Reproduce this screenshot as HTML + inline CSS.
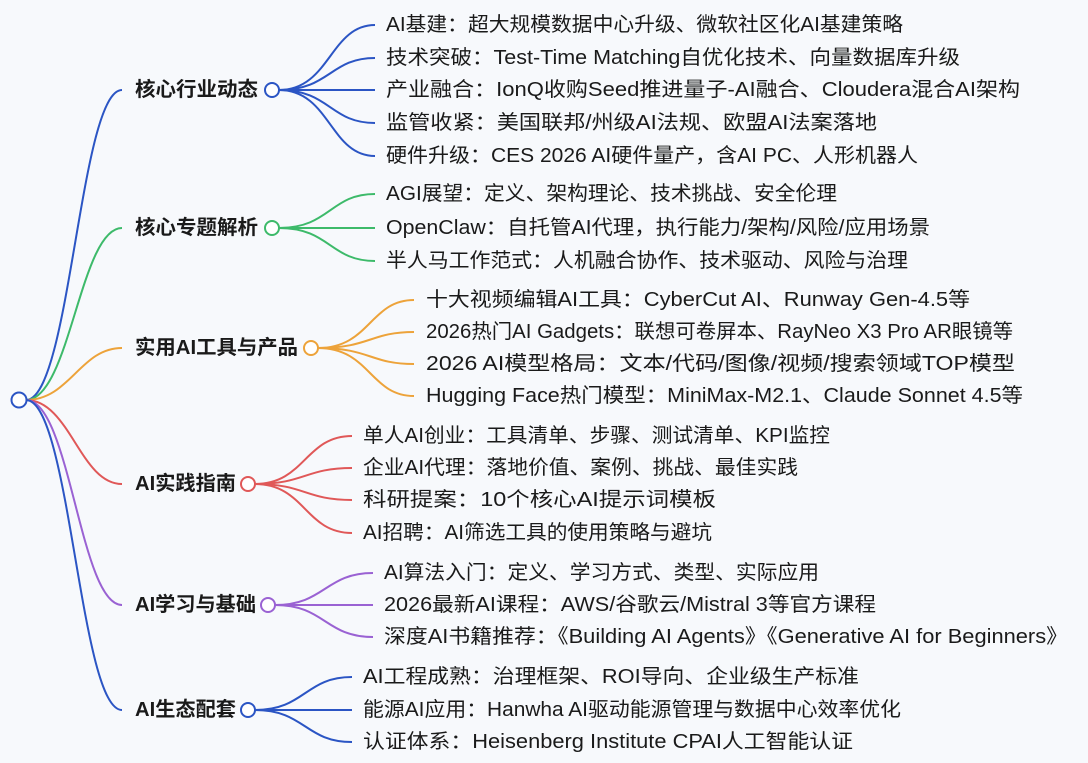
<!DOCTYPE html>
<html><head><meta charset="utf-8"><style>
html,body{margin:0;padding:0;background:#f7f9fc;}
svg{display:block;}
text{font-family:"Liberation Sans","Noto Sans CJK SC",sans-serif;fill:#1a1a1a;dominant-baseline:central;}
.c{font-size:20px;font-weight:bold;}
.t{font-size:20px;}
</style></head><body>
<svg width="1088" height="763" viewBox="0 0 1088 763" xmlns="http://www.w3.org/2000/svg">
<rect width="1088" height="763" fill="#f7f9fc"/>
<g fill="none" stroke-width="2">
<path d="M26 400 C70 400, 80 90, 122 90" stroke="#2b55c4"/>
<path d="M26 400 C70 400, 80 228, 122 228" stroke="#3dba6a"/>
<path d="M26 400 C70 400, 80 348, 122 348" stroke="#eda33a"/>
<path d="M26 400 C70 400, 80 484, 122 484" stroke="#e05858"/>
<path d="M26 400 C70 400, 80 605, 122 605" stroke="#9a62d3"/>
<path d="M26 400 C70 400, 80 710, 122 710" stroke="#2b55c4"/>
<g stroke="#2b55c4">
<path d="M279 90 C330 90, 330 25, 375 25"/>
<path d="M279 90 C330 90, 330 58, 375 58"/>
<path d="M279 90 L375 90"/>
<path d="M279 90 C330 90, 330 123, 375 123"/>
<path d="M279 90 C330 90, 330 156, 375 156"/>
</g>
<g stroke="#3dba6a">
<path d="M279 228 C330 228, 330 194, 375 194"/>
<path d="M279 228 L375 228"/>
<path d="M279 228 C330 228, 330 261, 375 261"/>
</g>
<g stroke="#eda33a">
<path d="M318 348 C370 348, 370 300, 414 300"/>
<path d="M318 348 C370 348, 370 332, 414 332"/>
<path d="M318 348 C370 348, 370 364, 414 364"/>
<path d="M318 348 C370 348, 370 396, 414 396"/>
</g>
<g stroke="#e05858">
<path d="M255 484 C305 484, 305 436, 352 436"/>
<path d="M255 484 C305 484, 305 468, 352 468"/>
<path d="M255 484 C305 484, 305 500, 352 500"/>
<path d="M255 484 C305 484, 305 533, 352 533"/>
</g>
<g stroke="#9a62d3">
<path d="M275 605 C325 605, 325 573, 373 573"/>
<path d="M275 605 L373 605"/>
<path d="M275 605 C325 605, 325 637, 373 637"/>
</g>
<g stroke="#2b55c4">
<path d="M255 710 C305 710, 305 677, 352 677"/>
<path d="M255 710 L352 710"/>
<path d="M255 710 C305 710, 305 742, 352 742"/>
</g>
<circle cx="19" cy="400" r="7.5" stroke="#2b55c4" fill="#fff"/>
<circle cx="272" cy="90" r="7" stroke="#2b55c4" fill="#fff"/>
<circle cx="272" cy="228" r="7" stroke="#3dba6a" fill="#fff"/>
<circle cx="311" cy="348" r="7" stroke="#eda33a" fill="#fff"/>
<circle cx="248" cy="484" r="7" stroke="#e05858" fill="#fff"/>
<circle cx="268" cy="605" r="7" stroke="#9a62d3" fill="#fff"/>
<circle cx="248" cy="710" r="7" stroke="#2b55c4" fill="#fff"/>
</g>
<g>
<text class="c" x="135" y="90" textLength="123" lengthAdjust="spacingAndGlyphs">核心行业动态</text>
<text class="c" x="135" y="228" textLength="123" lengthAdjust="spacingAndGlyphs">核心专题解析</text>
<text class="c" x="135" y="348" textLength="163" lengthAdjust="spacingAndGlyphs">实用AI工具与产品</text>
<text class="c" x="135" y="484" textLength="101" lengthAdjust="spacingAndGlyphs">AI实践指南</text>
<text class="c" x="135" y="605" textLength="121" lengthAdjust="spacingAndGlyphs">AI学习与基础</text>
<text class="c" x="135" y="710" textLength="101" lengthAdjust="spacingAndGlyphs">AI生态配套</text>
</g>
<g>
<text class="t" x="386" y="25" textLength="517" lengthAdjust="spacingAndGlyphs">AI基建：超大规模数据中心升级、微软社区化AI基建策略</text>
<text class="t" x="386" y="58" textLength="574" lengthAdjust="spacingAndGlyphs">技术突破：Test-Time Matching自优化技术、向量数据库升级</text>
<text class="t" x="386" y="90" textLength="634" lengthAdjust="spacingAndGlyphs">产业融合：IonQ收购Seed推进量子-AI融合、Cloudera混合AI架构</text>
<text class="t" x="386" y="123" textLength="491" lengthAdjust="spacingAndGlyphs">监管收紧：美国联邦/州级AI法规、欧盟AI法案落地</text>
<text class="t" x="386" y="156" textLength="532" lengthAdjust="spacingAndGlyphs">硬件升级：CES 2026 AI硬件量产，含AI PC、人形机器人</text>
<text class="t" x="386" y="194" textLength="451" lengthAdjust="spacingAndGlyphs">AGI展望：定义、架构理论、技术挑战、安全伦理</text>
<text class="t" x="386" y="228" textLength="544" lengthAdjust="spacingAndGlyphs">OpenClaw：自托管AI代理，执行能力/架构/风险/应用场景</text>
<text class="t" x="386" y="261" textLength="522" lengthAdjust="spacingAndGlyphs">半人马工作范式：人机融合协作、技术驱动、风险与治理</text>
<text class="t" x="426" y="300" textLength="544" lengthAdjust="spacingAndGlyphs">十大视频编辑AI工具：CyberCut AI、Runway Gen-4.5等</text>
<text class="t" x="426" y="332" textLength="587" lengthAdjust="spacingAndGlyphs">2026热门AI Gadgets：联想可卷屏本、RayNeo X3 Pro AR眼镜等</text>
<text class="t" x="426" y="364" textLength="589" lengthAdjust="spacingAndGlyphs">2026 AI模型格局：文本/代码/图像/视频/搜索领域TOP模型</text>
<text class="t" x="426" y="396" textLength="597" lengthAdjust="spacingAndGlyphs">Hugging Face热门模型：MiniMax-M2.1、Claude Sonnet 4.5等</text>
<text class="t" x="363" y="436" textLength="467" lengthAdjust="spacingAndGlyphs">单人AI创业：工具清单、步骤、测试清单、KPI监控</text>
<text class="t" x="363" y="468" textLength="435" lengthAdjust="spacingAndGlyphs">企业AI代理：落地价值、案例、挑战、最佳实践</text>
<text class="t" x="363" y="500" textLength="353" lengthAdjust="spacingAndGlyphs">科研提案：10个核心AI提示词模板</text>
<text class="t" x="363" y="533" textLength="349" lengthAdjust="spacingAndGlyphs">AI招聘：AI筛选工具的使用策略与避坑</text>
<text class="t" x="384" y="573" textLength="435" lengthAdjust="spacingAndGlyphs">AI算法入门：定义、学习方式、类型、实际应用</text>
<text class="t" x="384" y="605" textLength="492" lengthAdjust="spacingAndGlyphs">2026最新AI课程：AWS/谷歌云/Mistral 3等官方课程</text>
<text class="t" x="384" y="637" textLength="684" lengthAdjust="spacingAndGlyphs">深度AI书籍推荐：《Building AI Agents》《Generative AI for Beginners》</text>
<text class="t" x="363" y="677" textLength="496" lengthAdjust="spacingAndGlyphs">AI工程成熟：治理框架、ROI导向、企业级生产标准</text>
<text class="t" x="363" y="710" textLength="538" lengthAdjust="spacingAndGlyphs">能源AI应用：Hanwha AI驱动能源管理与数据中心效率优化</text>
<text class="t" x="363" y="742" textLength="490" lengthAdjust="spacingAndGlyphs">认证体系：Heisenberg Institute CPAI人工智能认证</text>
</g>
</svg>
</body></html>
